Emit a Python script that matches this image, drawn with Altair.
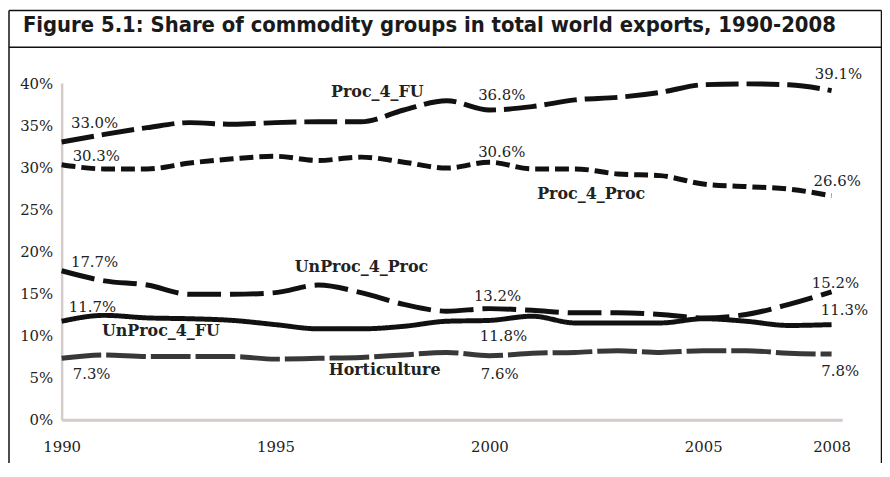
import altair as alt
import pandas as pd

years = list(range(1990, 2009))
series_names = ["Proc_4_FU", "Proc_4_Proc", "UnProc_4_Proc", "UnProc_4_FU", "Horticulture"]

proc_4_fu = [33.0, 33.9, 34.7, 35.3, 35.1, 35.3, 35.4, 35.4, 36.8, 37.9, 36.8, 37.2, 38.0, 38.3, 38.9, 39.8, 39.9, 39.8, 39.1]
proc_4_proc = [30.3, 29.8, 29.8, 30.5, 31.0, 31.3, 30.8, 31.2, 30.6, 29.9, 30.6, 29.8, 29.8, 29.2, 29.0, 28.0, 27.7, 27.4, 26.6]
unproc_4_proc = [17.7, 16.5, 16.0, 14.9, 14.9, 15.1, 16.0, 15.1, 13.7, 12.9, 13.2, 13.0, 12.7, 12.7, 12.5, 12.1, 12.5, 13.7, 15.2]
unproc_4_fu = [11.7, 12.4, 12.1, 12.0, 11.8, 11.3, 10.8, 10.8, 11.1, 11.7, 11.8, 12.3, 11.5, 11.5, 11.5, 12.0, 11.7, 11.2, 11.3]
horticulture = [7.3, 7.7, 7.5, 7.5, 7.5, 7.2, 7.3, 7.4, 7.7, 8.0, 7.6, 7.9, 8.0, 8.2, 8.0, 8.2, 8.2, 7.9, 7.8]

y_ticks = [0, 5, 10, 15, 20, 25, 30, 35, 40]
x_ticks = [1990, 1995, 2000, 2005, 2008]

title_text = "Figure 5.1: Share of commodity groups in total world exports, 1990-2008"

# value annotations: text, year, share
value_labels = ["33.0%", "30.3%", "17.7%", "11.7%", "7.3%",
                "36.8%", "30.6%", "13.2%", "11.8%", "7.6%",
                "39.1%", "26.6%", "15.2%", "11.3%", "7.8%"]
value_label_year = [1990.77, 1990.81, 1990.77, 1990.72, 1990.70,
                    2000.29, 2000.29, 2000.19, 2000.33, 2000.24,
                    2008.16, 2008.13, 2008.09, 2008.30, 2008.20]
value_label_share = [34.69, 30.68, 18.17, 12.74, 4.84,
                     37.99, 31.27, 14.16, 9.32, 4.84,
                     40.47, 27.73, 15.69, 12.39, 5.19]

name_label_year = [1997.38, 2002.38, 1997.01, 1992.32, 1997.55]
name_label_share = [38.35, 26.19, 17.58, 9.91, 5.31]

rows = []
for name, vals in zip(series_names, [proc_4_fu, proc_4_proc, unproc_4_proc, unproc_4_fu, horticulture]):
    for yr, v in zip(years, vals):
        rows.append({"series": name, "year": yr, "share": v})
df = pd.DataFrame(rows)

vl_df = pd.DataFrame({"label": value_labels, "year": value_label_year, "share": value_label_share})
nl_df = pd.DataFrame({"label": series_names, "year": name_label_year, "share": name_label_share})

serif = "DejaVu Serif"

x_scale = alt.Scale(domain=[1990, 2008.25], nice=False, zero=False)
y_scale = alt.Scale(domain=[0, 40], nice=False)

lines = alt.Chart(df).mark_line(interpolate="monotone", strokeCap="butt", strokeJoin="round").encode(
    x=alt.X("year:Q", scale=x_scale,
            axis=alt.Axis(values=x_ticks, format="d", title=None, grid=False, ticks=False, tickSize=0,
                          labelFont=serif, labelFontSize=15, labelColor="#222", labelPadding=20,
                          domainColor="#d3ccc8", domainWidth=3, labelFlush=False)),
    y=alt.Y("share:Q", scale=y_scale,
            axis=alt.Axis(values=y_ticks, labelExpr="datum.value + '%'", title=None, grid=False,
                          ticks=False, tickSize=0, labelFont=serif, labelFontSize=15, labelColor="#222",
                          labelPadding=9, domainColor="#d3ccc8", domainWidth=2.5)),
    detail="series:N",
    color=alt.Color("series:N", scale=alt.Scale(domain=series_names,
                    range=["#111111", "#111111", "#111111", "#111111", "#383838"]), legend=None),
    strokeDash=alt.StrokeDash("series:N", scale=alt.Scale(domain=series_names,
                              range=[[33, 8], [14, 6], [34, 9], [1, 0], [40, 5]]), legend=None),
    strokeWidth=alt.StrokeWidth("series:N", scale=alt.Scale(domain=series_names,
                                range=[5, 5, 5.5, 3.5, 5]), legend=None),
)

val_text = alt.Chart(vl_df).mark_text(font=serif, fontSize=15, color="#222", align="center",
                                     baseline="alphabetic").encode(
    x=alt.X("year:Q", scale=x_scale), y=alt.Y("share:Q", scale=y_scale), text="label:N")

name_text = alt.Chart(nl_df).mark_text(font=serif, fontSize=16, fontWeight="bold", color="#222",
                                      align="center", baseline="alphabetic").encode(
    x=alt.X("year:Q", scale=x_scale), y=alt.Y("share:Q", scale=y_scale), text="label:N")

one = pd.DataFrame({"t": [title_text]})
title = alt.Chart(one).mark_text(font="DejaVu Sans Condensed, Liberation Sans Narrow, Roboto",
                                 fontSize=22, fontWeight="bold", color="#1a1a1a", align="left",
                                 baseline="alphabetic").encode(
    text="t:N", x=alt.value(-39), y=alt.value(-51))

def rule(x1, x2, y1, y2, w=1.5):
    return alt.Chart(one).mark_rule(color="#111", strokeWidth=w).encode(
        x=alt.value(x1), x2=alt.value(x2), y=alt.value(y1), y2=alt.value(y2))

frame = [
    rule(-53, -53, -73, 385),
    rule(825.5, 825.5, -73, 385),
    rule(-53, 825.5, -73, -73),
    rule(-53, 825.5, -36, -36),
]

chart = alt.layer(lines, val_text, name_text, title, *frame).properties(
    width=786, height=339,
    padding={"left": 54, "top": 74, "right": 40, "bottom": 42},
    autosize=alt.AutoSizeParams(type="none"),
).configure_view(stroke=None)

chart.save("out.html", embed_options={"renderer": "svg", "actions": False})
